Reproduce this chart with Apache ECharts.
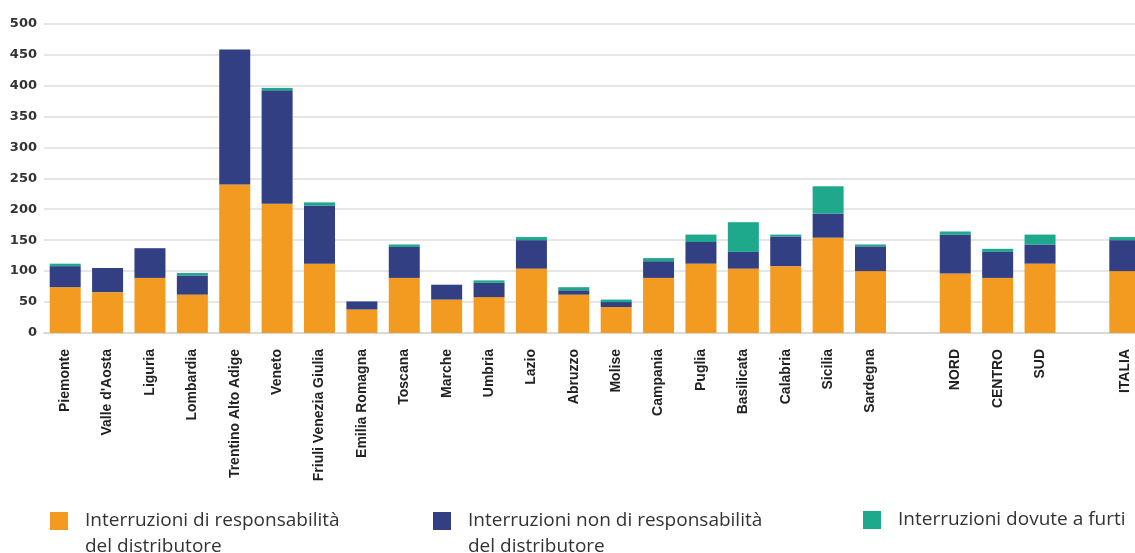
<!DOCTYPE html>
<html>
<head>
<meta charset="utf-8">
<script src="https://cdn.jsdelivr.net/npm/echarts@6/dist/echarts.min.js"></script>
<style>
html,body{margin:0;padding:0;background:#fff;}
#chart{width:1135px;height:553px;}
</style>
</head>
<body>
<div id="chart"></div>
<script>
const categories = ["Piemonte","Valle d'Aosta","Liguria","Lombardia","Trentino Alto Adige","Veneto","Friuli Venezia Giulia","Emilia Romagna","Toscana","Marche","Umbria","Lazio","Abruzzo","Molise","Campania","Puglia","Basilicata","Calabria","Sicilia","Sardegna"," ","NORD","CENTRO","SUD","  ","ITALIA"];
const responsabilita =    [74,66,89,62,240,209,112,38,89,54,58,104,62,42,89,112,104,108,154,100,null,96,89,112,null,100];
const nonResponsabilita = [34,39,48,31,218,183,94,13,50,24,23,46,7,8,27,35,27,48,39,40,null,63,42,31,null,50];
const furti =             [4,0,0,4,0,4,5,0,4,0,4,5,5,4,5,12,48,3,44,3,null,5,5,16,null,5];
const yTicks = [0,50,100,150,200,250,300,350,400,450,500];
const seriesNames = ["Interruzioni di responsabilità\ndel distributore","Interruzioni non di responsabilità\ndel distributore","Interruzioni dovute a furti"];

const chart = echarts.init(document.getElementById('chart'), null, {renderer:'canvas'});
const legendText = {fontFamily:'Open Sans', fontSize:19, color:'#333', lineHeight:26};
const twoLine = function(n){ return '\n' + n; };
const option = {
  animation:false,
  grid:{left:44, top:23.5, width:1102, height:309.5, containLabel:false, outerBoundsMode:'none'},
  legend:[
    {data:[seriesNames[0]], left:50, top:482, padding:0, itemWidth:18, itemHeight:18, icon:'rect', formatter:twoLine,
     textStyle:Object.assign({padding:[0,0,0,12]}, legendText)},
    {data:[seriesNames[1]], left:433, top:482, padding:0, itemWidth:18, itemHeight:18, icon:'rect', formatter:twoLine,
     textStyle:Object.assign({padding:[0,0,0,12]}, legendText)},
    {data:[seriesNames[2]], left:863, top:507, padding:0, itemWidth:18, itemHeight:18, icon:'rect',
     textStyle:Object.assign({padding:[0,0,0,12]}, legendText)}
  ],
  xAxis:{
    type:'category', data:categories,
    axisLine:{lineStyle:{color:'#d4d4d4', width:1.5}},
    axisTick:{length:8, lineStyle:{color:'#d4d4d4', width:1.5}},
    axisLabel:{rotate:90, interval:0, margin:16, fontFamily:'Liberation Sans', fontWeight:'bold', fontSize:14, color:'#222'}
  },
  yAxis:{
    type:'value', min:yTicks[0], max:yTicks[yTicks.length-1], interval:50,
    axisLine:{show:false}, axisTick:{show:false},
    splitLine:{lineStyle:{color:'#dedede', width:1.5}},
    axisLabel:{margin:7, fontFamily:'DejaVu Sans', fontWeight:'bold', fontSize:13, color:'#333'}
  },
  series:[
    {name:seriesNames[0], type:'bar', stack:'t', barWidth:31, data:responsabilita, itemStyle:{color:'#F39A20'}},
    {name:seriesNames[1], type:'bar', stack:'t', barWidth:31, data:nonResponsabilita, itemStyle:{color:'#323F83'}},
    {name:seriesNames[2], type:'bar', stack:'t', barWidth:31, data:furti, itemStyle:{color:'#1EA98C'}}
  ]
};
chart.setOption(option);
</script>
</body>
</html>
